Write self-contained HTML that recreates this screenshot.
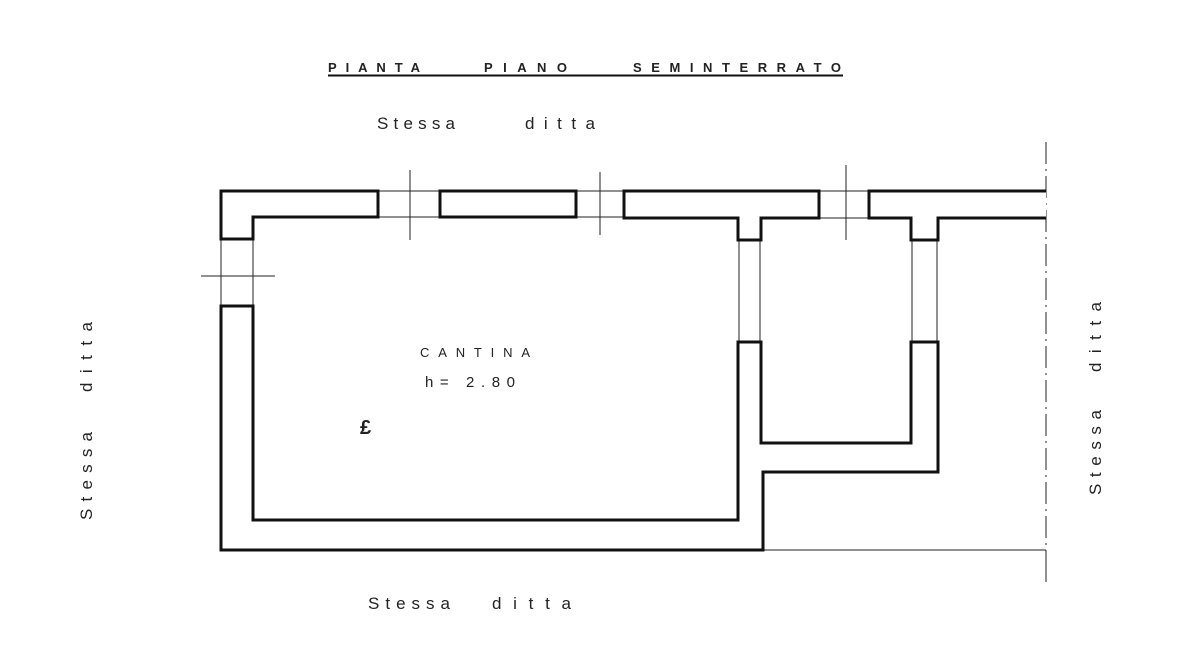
<!DOCTYPE html>
<html><head><meta charset="utf-8"><style>
body{margin:0;background:#fff;}
svg{display:block;}
text{font-family:"Liberation Sans",sans-serif;fill:#222;}
</style></head><body>
<svg width="1184" height="652" viewBox="0 0 1184 652" xmlns="http://www.w3.org/2000/svg">
<rect width="1184" height="652" fill="#fff"/>
<text x="328" y="72" font-size="13" font-weight="bold" textLength="92" lengthAdjust="spacing">PIANTA</text>
<text x="484" y="72" font-size="13" font-weight="bold" textLength="83" lengthAdjust="spacing">PIANO</text>
<text x="633" y="72" font-size="13" font-weight="bold" textLength="208" lengthAdjust="spacing">SEMINTERRATO</text>
<line x1="328" y1="75.5" x2="843" y2="75.5" stroke="#111" stroke-width="2"/>
<text x="377" y="129" font-size="17" textLength="78" lengthAdjust="spacing">Stessa</text>
<text x="525" y="129" font-size="17" textLength="70" lengthAdjust="spacing">ditta</text>
<text x="368" y="609" font-size="17" textLength="82" lengthAdjust="spacing">Stessa</text>
<text x="492" y="609" font-size="17" textLength="79" lengthAdjust="spacing">ditta</text>
<text transform="translate(92,520) rotate(-90)" font-size="17" textLength="88" lengthAdjust="spacing">Stessa</text>
<text transform="translate(92,392) rotate(-90)" font-size="17" textLength="70" lengthAdjust="spacing">ditta</text>
<text transform="translate(1101,495) rotate(-90)" font-size="17" textLength="85" lengthAdjust="spacing">Stessa</text>
<text transform="translate(1101,372) rotate(-90)" font-size="17" textLength="70" lengthAdjust="spacing">ditta</text>
<text x="420" y="357" font-size="13" textLength="110" lengthAdjust="spacing">CANTINA</text>
<text x="425" y="387" font-size="15" textLength="90" lengthAdjust="spacing">h= 2.80</text>
<text x="360" y="434" font-size="20" font-weight="bold">£</text>
<g stroke="#222" stroke-width="1" fill="none">
<line x1="378" y1="191" x2="440" y2="191"/><line x1="378" y1="217" x2="440" y2="217"/>
<line x1="576" y1="191" x2="624" y2="191"/><line x1="576" y1="217" x2="624" y2="217"/>
<line x1="819" y1="191" x2="869" y2="191"/><line x1="819" y1="218" x2="869" y2="218"/>
<line x1="221" y1="239" x2="221" y2="306"/><line x1="253" y1="239" x2="253" y2="306"/>
<line x1="739" y1="240" x2="739" y2="342"/><line x1="760" y1="240" x2="760" y2="342"/>
<line x1="912" y1="240" x2="912" y2="342"/><line x1="937" y1="240" x2="937" y2="342"/>
<line x1="410" y1="170" x2="410" y2="240"/>
<line x1="600" y1="172" x2="600" y2="235"/>
<line x1="846" y1="165" x2="846" y2="240"/>
<line x1="201" y1="276" x2="275" y2="276"/>
<line x1="763" y1="550" x2="1046" y2="550"/>
<line x1="1046" y1="550" x2="1046" y2="582"/>
<line x1="1046" y1="142" x2="1046" y2="550" stroke-dasharray="22,5,2,5"/>
</g>
<g stroke="#111" stroke-width="3" fill="#fff" stroke-linejoin="miter">
<polygon points="378,191 221,191 221,239 253,239 253,217 378,217"/>
<rect x="440" y="191" width="136" height="26"/>
<polygon points="624,191 819,191 819,218 761,218 761,240 738,240 738,218 624,218"/>
<path d="M1046,191 L869,191 L869,218 L911,218 L911,240 L938,240 L938,218 L1046,218"/>
<polygon points="221,306 253,306 253,520 738,520 738,342 761,342 761,443 911,443 911,342 938,342 938,472 763,472 763,550 221,550"/>
</g>
</svg>
</body></html>
